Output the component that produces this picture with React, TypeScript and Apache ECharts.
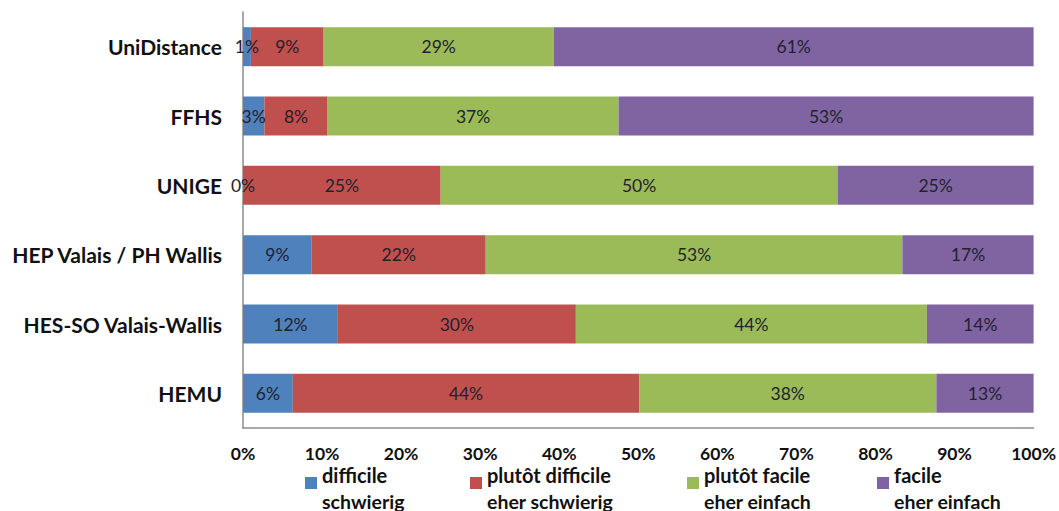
import React, { useEffect, useRef } from "react";
import * as echarts from "echarts";

const categories = ["UniDistance", "FFHS", "UNIGE", "HEP Valais / PH Wallis", "HES-SO Valais-Wallis", "HEMU"];
const seriesNames = ["difficile", "plutôt difficile", "plutôt facile", "facile"];
const seriesSub = ["schwierig", "eher schwierig", "eher einfach", "eher einfach"];
const difficile = [1.0, 2.7, 0, 8.7, 12.0, 6.3];
const plutotDifficile = [9.2, 8.0, 25.0, 22.0, 30.1, 43.8];
const plutotFacile = [29.1, 36.8, 50.2, 52.7, 44.4, 37.6];
const facile = [60.7, 52.5, 24.8, 16.6, 13.5, 12.5];
const xTicks = [0, 10, 20, 30, 40, 50, 60, 70, 80, 90, 100];
const colors = ["#4F81BD", "#C0504D", "#9BBB59", "#8064A2"];
const legendLeft = [305, 470, 687, 877];

export default function App() {
  const ref = useRef<HTMLDivElement>(null);
  useEffect(() => {
    if (!ref.current) return;
    const chart = echarts.init(ref.current, null, { renderer: "svg" });
    const data = [difficile, plutotDifficile, plutotFacile, facile];
    const font = "Lato, 'Open Sans', sans-serif";
    chart.setOption({
      animation: false,
      textStyle: { fontFamily: font },
      grid: { left: 243, right: 25, top: 12, bottom: 83, containLabel: false },
      xAxis: {
        type: "value",
        min: xTicks[0],
        max: xTicks[xTicks.length - 1],
        interval: 10,
        axisLine: { show: true, lineStyle: { color: "#8c8c8c", width: 1.5 } },
        axisTick: { show: false },
        splitLine: { show: false },
        axisLabel: {
          formatter: "{value}%",
          fontFamily: font,
          fontWeight: "bold",
          fontSize: 17.5,
          lineHeight: 14,
          color: "#111",
          margin: 18,
        },
      },
      yAxis: {
        type: "category",
        data: categories,
        inverse: true,
        axisLine: { show: true, lineStyle: { color: "#8c8c8c", width: 1.5 } },
        axisTick: { show: false },
        axisLabel: {
          fontFamily: font,
          fontWeight: "bold",
          fontSize: 21,
          color: "#111",
          margin: 21,
        },
      },
      legend: seriesNames.map((n, i) => ({
        data: [n],
        left: legendLeft[i],
        top: 461,
        padding: 0,
        itemWidth: 12,
        itemHeight: 28,
        icon: "path://M0,0h0.01v0.01h-0.01z M0,16h12v12h-12z",
        textStyle: {
          fontFamily: font,
          fontWeight: "bold",
          fontSize: 20,
          lineHeight: 16,
          color: "#111",
        },
      })),
      graphic: seriesSub.map((s, i) => ({
        type: "text",
        left: legendLeft[i] + 17,
        top: 491,
        style: {
          text: s,
          fontFamily: font,
          fontWeight: "bold",
          fontSize: 19.5,
          lineHeight: 16,
          fill: "#111",
        },
      })),
      series: seriesNames.map((n, i) => ({
        name: n,
        type: "bar",
        stack: "total",
        barWidth: 39,
        data: data[i],
        itemStyle: { color: colors[i] },
        label: {
          show: true,
          position: "inside",
          formatter: (p: any) => Math.round(p.value) + "%",
          fontFamily: font,
          fontSize: 17.5,
          color: "#22222c",
        },
      })),
    });
    return () => chart.dispose();
  }, []);
  return <div ref={ref} style={{ position: "absolute", left: 0, top: 0, width: 1059, height: 511 }} />;
}
